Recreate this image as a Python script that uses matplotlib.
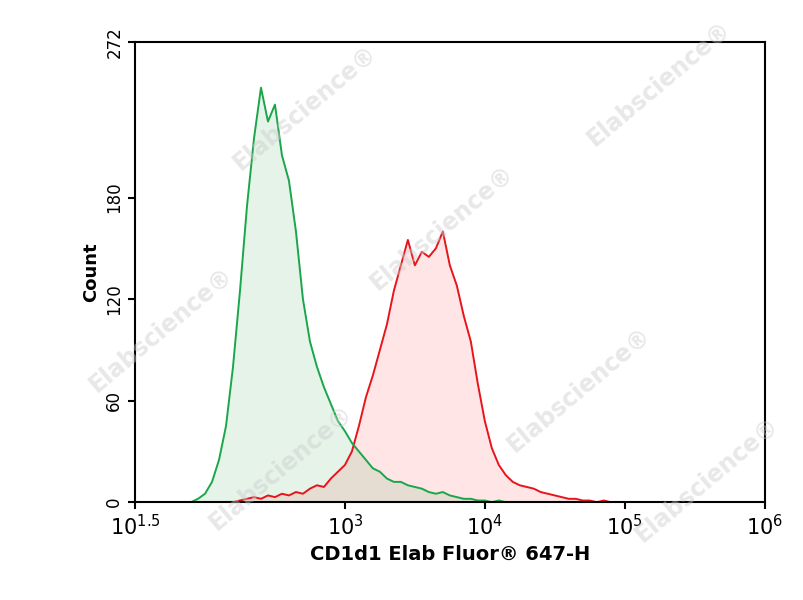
import matplotlib
matplotlib.use("Agg")
import matplotlib.pyplot as plt
import numpy as np

green_logx = [1.90,1.95,2.00,2.05,2.10,2.15,2.20,2.25,2.30,2.35,2.40,2.45,2.50,2.55,2.60,2.65,2.70,2.75,2.80,2.85,2.90,2.95,3.00,3.05,3.10,3.15,3.20,3.25,3.30,3.35,3.40,3.45,3.50,3.55,3.60,3.65,3.70,3.75,3.80,3.85,3.90,3.95,4.00,4.05,4.10,4.15,4.20]
green_count = [0,2,5,12,25,45,80,125,175,215,245,225,235,205,190,160,120,95,80,68,58,48,42,35,30,25,20,18,14,12,12,10,9,8,6,5,6,4,3,2,2,1,1,0,1,0,0]
red_logx = [2.20,2.25,2.30,2.35,2.40,2.45,2.50,2.55,2.60,2.65,2.70,2.75,2.80,2.85,2.90,2.95,3.00,3.05,3.10,3.15,3.20,3.25,3.30,3.35,3.40,3.45,3.50,3.55,3.60,3.65,3.70,3.75,3.80,3.85,3.90,3.95,4.00,4.05,4.10,4.15,4.20,4.25,4.30,4.35,4.40,4.45,4.50,4.55,4.60,4.65,4.70,4.75,4.80,4.85,4.90,4.95,5.00]
red_count = [0,1,2,3,2,4,3,5,4,6,5,8,10,9,14,18,22,30,45,62,75,90,105,125,140,155,140,148,145,150,160,140,128,110,95,70,48,32,22,16,12,10,9,8,6,5,4,3,2,2,1,1,0,1,0,0,0]
xtick_pos = [1.5,3,4,5,6]
xtick_labels = [r"$10^{1.5}$", r"$10^{3}$", r"$10^{4}$", r"$10^{5}$", r"$10^{6}$"]
ytick_pos = [0,60,120,180,272]

fig = plt.figure(figsize=(8.04,6.0), dpi=100)
ax = fig.add_axes([0.168,0.163,0.783,0.767])
gx = 10**np.array(green_logx); rx = 10**np.array(red_logx)
ax.fill_between(rx, red_count, color="#ff0000", alpha=0.1, lw=0)
ax.fill_between(gx, green_count, color="#2a9d4a", alpha=0.12, lw=0)
ax.plot(rx, red_count, color="#e8141b", lw=1.4)
ax.plot(gx, green_count, color="#1aa64a", lw=1.4)
ax.set_xscale("log")
ax.set_xlim(10**1.5, 1e6)
ax.set_ylim(0,272)
ax.set_xticks([10**p for p in xtick_pos])
ax.set_xticklabels(xtick_labels, fontsize=15, fontweight="bold")
ax.xaxis.set_minor_locator(matplotlib.ticker.NullLocator())
ax.set_yticks(ytick_pos)
ax.set_yticklabels([str(v) for v in ytick_pos], rotation=90, va="center", fontsize=12)
for s in ax.spines.values(): s.set_linewidth(1.5)
ax.tick_params(width=1.5, length=5)
ax.set_xlabel("CD1d1 Elab Fluor® 647-H", fontsize=14, fontweight="bold")
ax.set_ylabel("Count", fontsize=13, fontweight="bold")
for (x,y) in [(0.38,0.82),(0.55,0.62),(0.82,0.86),(0.2,0.45),(0.72,0.35),(0.35,0.22),(0.88,0.2)]:
    fig.text(x,y,"Elabscience®",rotation=40,fontsize=17,color="#cccccc",alpha=0.45,ha="center",va="center",fontweight="bold")
fig.savefig("out.png", dpi=100)
